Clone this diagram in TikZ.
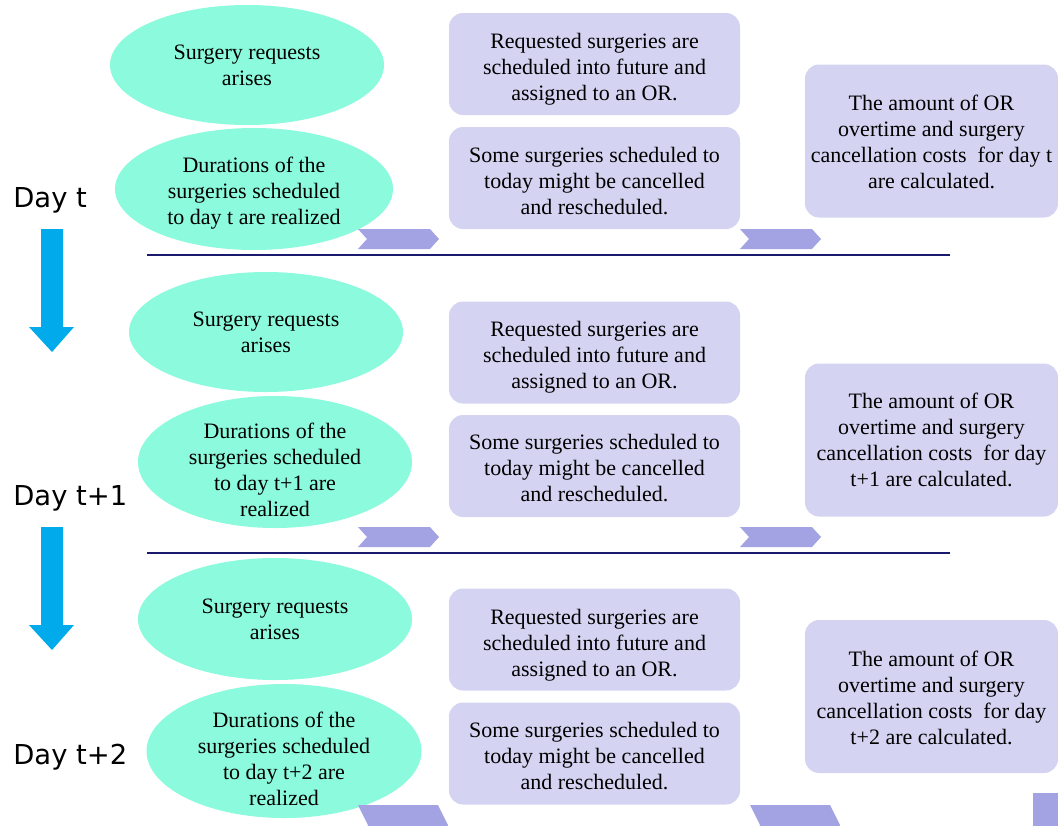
\documentclass[tikz,border=0pt]{standalone}
\usepackage{fontspec}
\setmainfont{Liberation Serif}
\newfontfamily\dayfont{DejaVu Sans}
\usetikzlibrary{shapes.geometric}
\definecolor{ellfill}{RGB}{140,250,220}
\definecolor{boxfill}{RGB}{212,212,242}
\definecolor{chevfill}{RGB}{163,163,228}
\definecolor{linecol}{RGB}{25,25,110}
\definecolor{arrowcol}{RGB}{0,170,235}
\tikzset{
  ell/.style={ellipse, fill=ellfill, inner sep=0pt, minimum width=137pt},
  box/.style={rounded corners=7pt, fill=boxfill, inner sep=0pt,
    minimum width=145.5pt, minimum height=51pt},
  cbox/.style={box, minimum width=126.5pt, minimum height=76.5pt},
  txt/.style={inner sep=0pt, align=center, font=\fontsize{11}{13}\selectfont},
  daylbl/.style={anchor=west, inner sep=0pt, font=\dayfont\fontsize{13.7}{16}\selectfont},
  sepline/.style={draw=linecol, line width=1.3pt},
  chev/.pic={\fill[chevfill] (0,0) -- (72,0) -- (81,10) -- (72,20) -- (0,20) -- (9,10) -- cycle;},
  bigchev/.pic={\fill[chevfill] (0,0) -- (80,0) -- (90,20) -- (80,40) -- (0,40) -- (10,20) -- cycle;},
  flatchev/.pic={\fill[chevfill] (0,0) -- (80,0) -- (90,20) -- (80,40) -- (0,40) -- cycle;},
  downarrow/.pic={\fill[arrowcol] (41,0) -- (63,0) -- (63,98) -- (74,98) -- (52,123) -- (29,98) -- (41,98) -- cycle;}
}
\begin{document}
\begin{tikzpicture}[x=0.5pt,y=-0.5pt]
\useasboundingbox (0,0) rectangle (1058,825);
\clip (0,0) rectangle (1058,825);

% ---------- Day t ----------
\node[ell, minimum height=60pt] (e1a) at (247,65) {};
\node[txt] (t1a) at (247,65) {Surgery requests\\arises};
\node[ell, minimum width=139pt, minimum height=61pt] (e1b) at (254,189) {};
\node[txt] (t1b) at (254,193) {Durations of the\\surgeries scheduled\\to day t are realized};
\node[box] (b1a) at (594.5,64) {};
\node[txt] (s1a) at (594.5,69) {Requested surgeries are\\scheduled into future and\\assigned to an OR.};
\node[box] (b1b) at (594.5,178) {};
\node[txt] (s1b) at (594.5,181) {Some surgeries scheduled to\\today might be cancelled\\and rescheduled.};
\node[cbox] (b1c) at (931.5,141) {};
\node[txt] (s1c) at (931.5,142) {The amount of OR\\overtime and surgery\\cancellation costs~ for day t\\are calculated.};
\node[daylbl] (d1) at (13,200) {Day t};
\pic at (358,229) {chev};
\pic at (740,229) {chev};
\coordinate (l1a) at (147,255);
\coordinate (l1b) at (950,255);
\draw[sepline] (l1a) -- (l1b);
\pic at (0,229) {downarrow};

% ---------- Day t+1 ----------
\node[ell, minimum height=60pt] (e2a) at (266,332) {};
\node[txt] (t2a) at (266,332) {Surgery requests\\arises};
\node[ell, minimum height=66pt] (e2b) at (275,462) {};
\node[txt] (t2b) at (275,470) {Durations of the\\surgeries scheduled\\to day t+1 are\\realized};
\node[box] (b2a) at (594.5,352.5) {};
\node[txt] (s2a) at (594.5,357.5) {Requested surgeries are\\scheduled into future and\\assigned to an OR.};
\node[box] (b2b) at (594.5,466) {};
\node[txt] (s2b) at (594.5,468) {Some surgeries scheduled to\\today might be cancelled\\and rescheduled.};
\node[cbox] (b2c) at (931.5,440) {};
\node[txt] (s2c) at (931.5,440) {The amount of OR\\overtime and surgery\\cancellation costs~ for day\\t+1 are calculated.};
\node[daylbl] (d2) at (13,498) {Day t+1};
\pic at (358,527) {chev};
\pic at (740,527) {chev};
\coordinate (l2a) at (147,553);
\coordinate (l2b) at (950,553);
\draw[sepline] (l2a) -- (l2b);
\pic at (0,527) {downarrow};

% ---------- Day t+2 ----------
\node[ell, minimum height=61pt] (e3a) at (275,619) {};
\node[txt] (t3a) at (275,619) {Surgery requests\\arises};
\node[ell, minimum width=137.5pt, minimum height=67pt] (e3b) at (284,751) {};
\node[txt] (t3b) at (284,759) {Durations of the\\surgeries scheduled\\to day t+2 are\\realized};
\node[box] (b3a) at (594.5,639.5) {};
\node[txt] (s3a) at (594.5,645) {Requested surgeries are\\scheduled into future and\\assigned to an OR.};
\node[box] (b3b) at (594.5,753.5) {};
\node[txt] (s3b) at (594.5,756.5) {Some surgeries scheduled to\\today might be cancelled\\and rescheduled.};
\node[cbox] (b3c) at (931.5,696.5) {};
\node[txt] (s3c) at (931.5,697.5) {The amount of OR\\overtime and surgery\\cancellation costs~ for day\\t+2 are calculated.};
\node[daylbl] (d3) at (13,757) {Day t+2};
\pic at (358,805) {bigchev};
\pic at (750,805) {bigchev};
\pic at (1033,793) {flatchev};
\end{tikzpicture}
\end{document}
